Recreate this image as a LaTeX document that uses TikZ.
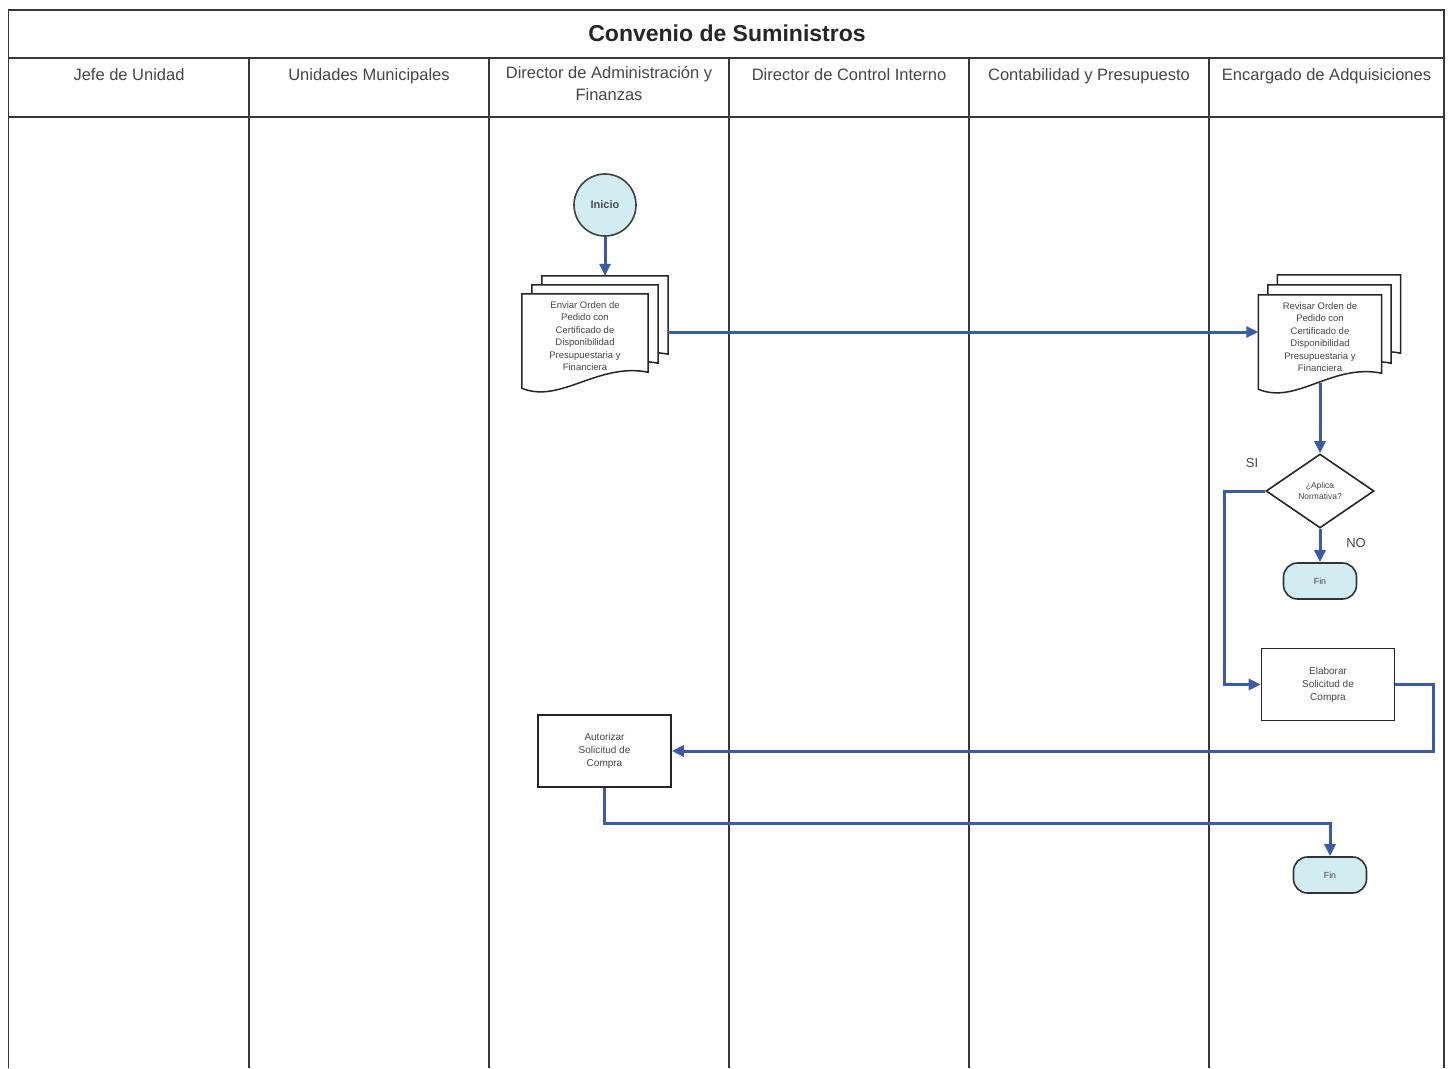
\documentclass[tikz,border=0pt]{standalone}
\usepackage{fontspec}
\setmainfont{Liberation Sans}
\usetikzlibrary{arrows.meta,shapes.geometric,calc}

\definecolor{flowblue}{RGB}{60,90,172}
\definecolor{termfill}{RGB}{210,237,241}
\definecolor{gridline}{RGB}{55,55,55}
\definecolor{inkgray}{RGB}{70,70,70}

\pgfdeclarelayer{gridlayer}
\pgfdeclarelayer{background}
\pgfsetlayers{gridlayer,background,main}

% outline of a sheet with a wavy lower edge hanging below node #1
\newcommand\docoutline[1]{%
  \path[docframe] (#1.north west) -- (#1.north east) -- ($(#1.south east)+(0,-6)$)
    .. controls ($(#1.south east)+(-50,-16)$) and ($(#1.south west)+(38,26)$) ..
    ($(#1.south west)+(0,10)$) -- cycle;}

\begin{document}
\begin{tikzpicture}[x=1pt,y=-1pt,
  lane/.style={draw=gridline, line width=1.8pt},
  flow/.style={draw=flowblue, line width=3pt, -{Triangle[length=12pt,width=11pt]}},
  lanehead/.style={font=\fontsize{16.5}{22}\selectfont, text=inkgray, align=center,
    anchor=north, inner sep=0pt, execute at begin node={\vphantom{Á}}},
  box/.style={draw=black!85, line width=1.6pt, fill=white, minimum width=133pt,
    minimum height=72pt, inner sep=0pt, align=center,
    font=\fontsize{10}{13}\selectfont, text=inkgray},
  terminal/.style={draw=black!80, line width=1.6pt, fill=termfill, rounded corners=14pt,
    minimum width=73pt, minimum height=36pt, inner sep=0pt,
    font=\fontsize{8.8}{10}\selectfont, text=inkgray},
  startnode/.style={circle, draw=black!75, line width=1.6pt, fill=termfill,
    minimum size=62pt, inner sep=0pt, font=\bfseries\fontsize{11}{13}\selectfont,
    text=black!70},
  docframe/.style={draw=black!85, line width=1.5pt, fill=white},
  docnode/.style={minimum width=126pt, minimum height=84pt, inner sep=0pt, align=center,
    font=\fontsize{9.5}{12.5}\selectfont, text=inkgray},
  decision/.style={diamond, draw=black!85, line width=1.6pt, fill=white,
    minimum width=108pt, minimum height=74pt, inner sep=0pt, aspect=1.46, align=center,
    font=\fontsize{8.5}{11.7}\selectfont, text=inkgray},
  branch/.style={font=\fontsize{13}{15}\selectfont, text=inkgray},
]
\useasboundingbox (0,0) rectangle (1453,1068);

% swimlane table
\begin{pgfonlayer}{gridlayer}
  \fill[white] (0,0) rectangle (1453,1068);
  \draw[lane] (8.5,1068) -- (8.5,10) -- (1444,10) -- (1444,1068);
  \draw[lane] (8.5,58) -- (1444,58);
  \draw[lane] (8.5,117) -- (1444,117);
  \foreach \lx in {249,489,729,969,1209}
    \draw[lane] (\lx,58) -- (\lx,1068);
\end{pgfonlayer}

\node[font=\bfseries\fontsize{23}{26}\selectfont, text=black!85] (title) at (727,33)
  {Convenio de Suministros};

\node[lanehead] (h1) at (129,66) {Jefe de Unidad};
\node[lanehead] (h2) at (369,66) {Unidades Municipales};
\node[lanehead] (h3) at (609,66) {Director de Administración y\\Finanzas};
\node[lanehead] (h4) at (849,66) {Director de Control Interno};
\node[lanehead] (h5) at (1089,66) {Contabilidad y Presupuesto};
\node[lanehead] (h6) at (1326.5,66) {Encargado de Adquisiciones};

% process nodes
\node[startnode] (inicio) at (605,205) {Inicio};

\node[docnode] (docA) at (585,336) {Enviar Orden de\\Pedido con\\Certificado de\\Disponibilidad\\Presupuestaria y\\Financiera};
\node[docnode] (docA2) at ($(docA)+(10,-9)$) {};
\node[docnode] (docA3) at ($(docA)+(20,-18)$) {};

\node[docnode, minimum width=123pt] (docB) at (1320,337) {Revisar Orden de\\Pedido con\\Certificado de\\Disponibilidad\\Presupuestaria y\\Financiera};
\node[docnode, minimum width=123pt] (docB2) at ($(docB)+(9.5,-10)$) {};
\node[docnode, minimum width=123pt] (docB3) at ($(docB)+(19,-20)$) {};

\begin{pgfonlayer}{background}
  \docoutline{docA3}\docoutline{docA2}\docoutline{docA}
  \docoutline{docB3}\docoutline{docB2}\docoutline{docB}
\end{pgfonlayer}

\node[decision] (dec) at (1320,491) {¿Aplica\\Normativa?};
\node[terminal] (fin1) at (1320,581) {Fin};
\node[box] (elab) at (1328,684.5) {Elaborar\\Solicitud de\\Compra};
\node[box] (aut) at (604.5,751) {Autorizar\\Solicitud de\\Compra};
\node[terminal] (fin2) at (1330,875) {Fin};

\node[branch] (si) at (1252,463) {SI};
\node[branch] (no) at (1356,543) {NO};

% routing helpers
\coordinate (rowA) at (0,332);
\coordinate (siTurn) at (1224,0);
\coordinate (loopR) at (1433,0);
\coordinate (rowB) at (0,823);

% connectors
\draw[flow] (inicio.south) -- (docA3.north);
\draw[flow] (docA3.east |- rowA) -- (docB.west |- rowA);
\draw[flow] ($(docB.south)+(0,4)$) -- (dec.north);
\draw[flow] (dec.south) -- (fin1.north);
\draw[flow] (dec.west) -- (dec.west -| siTurn) |- (elab.west);
\draw[flow] (elab.east) -- (elab.east -| loopR) |- (aut.east);
\draw[flow] (aut.south) -- (aut.south |- rowB) -| (fin2.north);
\end{tikzpicture}
\end{document}
